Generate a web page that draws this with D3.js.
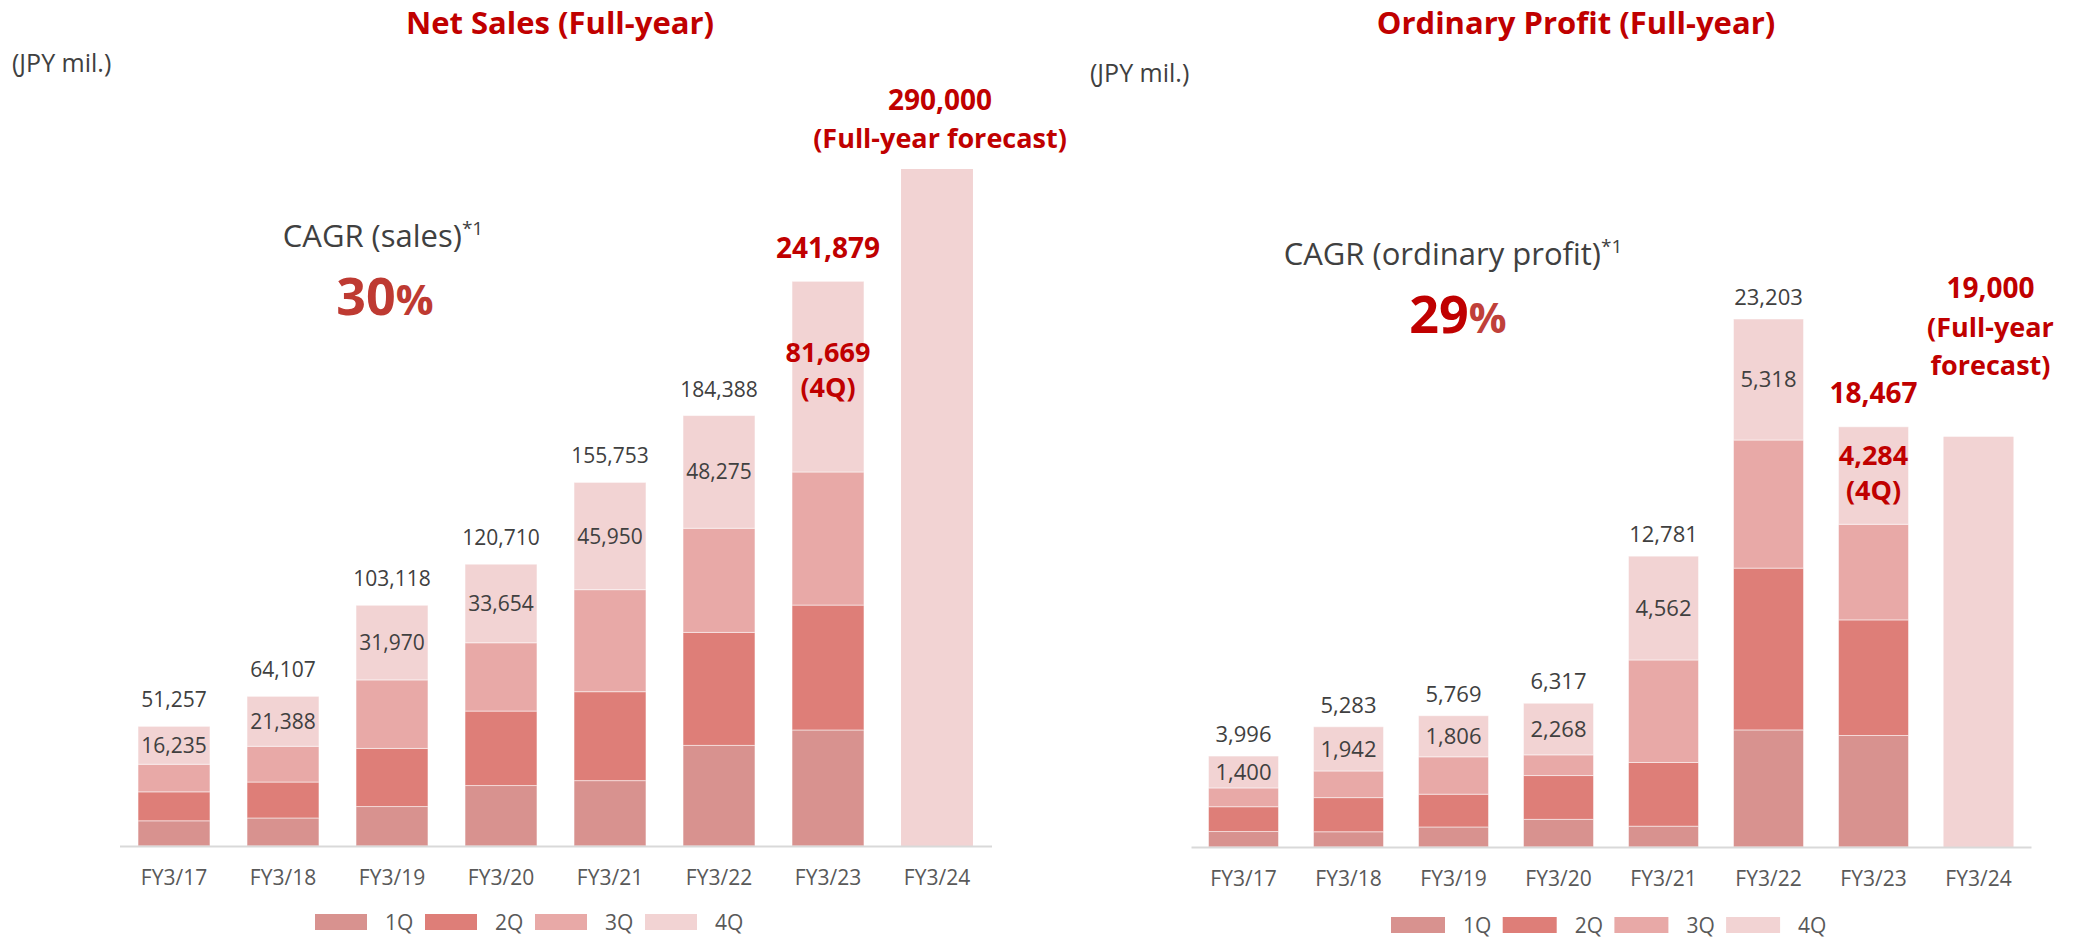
<!doctype html>
<html>
<head>
<meta charset="utf-8">
<title>Net Sales / Ordinary Profit</title>
<script src="https://d3js.org/d3.v7.min.js"></script>
<style>
body { margin:0; background:#fff; font-family:'Open Sans', sans-serif; }
svg text { font-family:'Open Sans', sans-serif; }
.axis .domain { stroke:#D9D9D9; stroke-width:2; }
.axis text { fill:#595959; font-size:21px; }
</style>
</head>
<body>
<svg id="chart" width="2078" height="940"></svg>
<script>
// categories
var years = ["FY3/17","FY3/18","FY3/19","FY3/20","FY3/21","FY3/22","FY3/23","FY3/24"];
var quarters = ["1Q","2Q","3Q","4Q"];
var qColors = ["#D8928F","#DE7E78","#E8A9A7","#F2D3D3"];

// net sales (JPY mil.), FY3/17 .. FY3/23
var salesQ1 = [10800, 12000, 16900, 25900, 28000, 43100, 49700];
var salesQ2 = [12400, 15400, 24900, 31900, 38100, 48400, 53500];
var salesQ3 = [11822, 15319, 29348, 29256, 43703, 44613, 57010];
var salesQ4 = [16235, 21388, 31970, 33654, 45950, 48275, 81669];
var salesTotal = [51257, 64107, 103118, 120710, 155753, 184388, 241879];
var salesForecast = 290000;
var salesForecastBar = 290000;

// ordinary profit (JPY mil.)
var opQ1 = [680, 670, 880, 1215, 915, 5145, 4900];
var opQ2 = [1090, 1500, 1440, 1925, 2800, 7110, 5080];
var opQ3 = [826, 1171, 1643, 909, 4504, 5630, 4203];
var opQ4 = [1400, 1942, 1806, 2268, 4562, 5318, 4284];
var opTotal = [3996, 5283, 5769, 6317, 12781, 23203, 18467];
var opForecast = 19000;
var opForecastBar = 18030;

var svg = d3.select("#chart");
var fmt = d3.format(",");
var red = "#C00000";

function drawPanel(p) {
  var g = svg.append("g");

  var x = d3.scaleBand().domain(years).range(p.xRange)
    .paddingInner(p.padIn).paddingOuter(p.padIn / 2);
  var y = d3.scaleLinear().domain([0, p.yMax]).range([p.base, p.yTop]);

  // stack the quarters
  var rows = p.q1.map(function(v, i){
    return {year: years[i], "1Q": p.q1[i], "2Q": p.q2[i], "3Q": p.q3[i], "4Q": p.q4[i]};
  });
  var series = d3.stack().keys(quarters)(rows);

  g.selectAll(".layer")
    .data(series)
    .enter().append("g")
    .attr("fill", function(d, i){ return qColors[i]; })
    .selectAll("rect")
    .data(function(d){ return d; })
    .enter().append("rect")
    .attr("x", function(d){ return x(d.data.year); })
    .attr("y", function(d){ return y(d[1]); })
    .attr("width", x.bandwidth())
    .attr("height", function(d){ return y(d[0]) - y(d[1]); })
    .attr("stroke", "rgba(255,255,255,0.5)")
    .attr("stroke-width", 1);

  // forecast bar
  g.append("rect")
    .attr("x", x(years[7]))
    .attr("y", y(p.forecastBar))
    .attr("width", x.bandwidth())
    .attr("height", y(0) - y(p.forecastBar))
    .attr("fill", qColors[3]);

  // axis
  g.append("g").attr("class", "axis")
    .attr("transform", "translate(0," + p.base + ")")
    .call(d3.axisBottom(x).tickSize(0).tickSizeOuter(0).tickPadding(24));

  var last = years.length - 2;

  // totals above bars
  g.selectAll(".total")
    .data(p.total.slice(0, last))
    .enter().append("text")
    .attr("x", function(d, i){ return x(years[i]) + x.bandwidth() / 2; })
    .attr("y", function(d){ return y(d) - p.totalGap; })
    .attr("text-anchor", "middle")
    .attr("font-size", p.labelSize)
    .attr("fill", "#404040")
    .text(fmt);

  // 4Q values inside bars
  g.selectAll(".q4")
    .data(p.q4.slice(0, last))
    .enter().append("text")
    .attr("x", function(d, i){ return x(years[i]) + x.bandwidth() / 2; })
    .attr("y", function(d, i){ return y(p.total[i] - d / 2); })
    .attr("dy", "0.36em")
    .attr("text-anchor", "middle")
    .attr("font-size", p.labelSize)
    .attr("fill", "#404040")
    .text(fmt);

  // latest year highlighted
  var cx = x(years[last]) + x.bandwidth() / 2;
  g.append("text").attr("x", cx).attr("y", p.lastTotalY)
    .attr("text-anchor", "middle").attr("font-size", 28).attr("font-weight", "bold")
    .attr("fill", red).text(fmt(p.total[last]));
  g.append("text").attr("x", cx).attr("y", p.lastQ4Y)
    .attr("text-anchor", "middle").attr("font-size", 27).attr("font-weight", "bold")
    .attr("fill", red).text(fmt(p.q4[last]));
  g.append("text").attr("x", cx).attr("y", p.lastQ4Y + 35)
    .attr("text-anchor", "middle").attr("font-size", 27).attr("font-weight", "bold")
    .attr("fill", red).text("(4Q)");

  // forecast label
  var fx = x(years[7]) + x.bandwidth() / 2 + p.fcShift;
  var fl = [fmt(p.forecast)].concat(p.fcLines);
  g.selectAll(".fc")
    .data(fl)
    .enter().append("text")
    .attr("x", fx)
    .attr("y", function(d, i){ return p.fcY + i * p.fcStep; })
    .attr("text-anchor", "middle")
    .attr("font-size", function(d, i){ return i == 0 ? 28 : 27; })
    .attr("font-weight", "bold")
    .attr("fill", red)
    .text(function(d){ return d; });

  // title and unit
  g.append("text").attr("x", p.titleX).attr("y", 34)
    .attr("text-anchor", "middle").attr("font-size", 31).attr("font-weight", "bold")
    .attr("fill", red).text(p.title);
  g.append("text").attr("x", p.unitX).attr("y", p.unitY)
    .attr("font-size", 25).attr("fill", "#404040").text("(JPY mil.)");

  // CAGR
  var c = g.append("text").attr("x", p.cagrX).attr("y", p.cagrY)
    .attr("text-anchor", "middle").attr("fill", "#404040").attr("font-size", 31);
  c.append("tspan").text(p.cagrLabel);
  c.append("tspan").attr("font-size", 19).attr("dy", -12).text("*1");
  var pc = g.append("text").attr("x", p.pctX).attr("y", p.cagrY + 68)
    .attr("text-anchor", "middle").attr("font-weight", "bold");
  pc.append("tspan").attr("font-size", 52).attr("fill", p.pctColor).text(p.pct);
  pc.append("tspan").attr("font-size", 42).attr("fill", p.pctSignColor).text("%");

  // legend
  var lg = g.append("g");
  quarters.forEach(function(q, i){
    lg.append("rect")
      .attr("x", p.legX + i * p.legStep).attr("y", p.legY)
      .attr("width", p.swW).attr("height", 16)
      .attr("fill", qColors[i]);
    lg.append("text")
      .attr("x", p.legX + i * p.legStep + p.swW + 18).attr("y", p.legY + 16)
      .attr("font-size", 21).attr("fill", "#595959").text(q);
  });
}

drawPanel({
  title: "Net Sales (Full-year)", titleX: 560,
  unitX: 12, unitY: 72,
  q1: salesQ1, q2: salesQ2, q3: salesQ3, q4: salesQ4, total: salesTotal,
  forecast: salesForecast, forecastBar: salesForecastBar,
  xRange: [119.5, 991.5], padIn: 0.34,
  base: 846, yTop: 169, yMax: 290000,
  labelSize: 21, totalGap: 19,
  lastTotalY: 258, lastQ4Y: 362,
  fcShift: 3, fcY: 110, fcStep: 38, fcLines: ["(Full-year forecast)"],
  cagrLabel: "CAGR (sales)", cagrX: 383, cagrY: 247,
  pct: "30", pctX: 385, pctColor: "#BE3A32", pctSignColor: "#BE3A32",
  legX: 315, legStep: 110, legY: 914, swW: 52
});

drawPanel({
  title: "Ordinary Profit (Full-year)", titleX: 1576,
  unitX: 1090, unitY: 82,
  q1: opQ1, q2: opQ2, q3: opQ3, q4: opQ4, total: opTotal,
  forecast: opForecast, forecastBar: opForecastBar,
  xRange: [1191, 2031], padIn: 0.333,
  base: 847, yTop: 319, yMax: 23203,
  labelSize: 22, totalGap: 14,
  lastTotalY: 403, lastQ4Y: 465,
  fcShift: 12, fcY: 298, fcStep: 38.5, fcLines: ["(Full-year", "forecast)"],
  cagrLabel: "CAGR (ordinary profit)", cagrX: 1453, cagrY: 265,
  pct: "29", pctX: 1458, pctColor: "#C00000", pctSignColor: "#C0403A",
  legX: 1391, legStep: 111.7, legY: 917, swW: 54
});
</script>
</body>
</html>
